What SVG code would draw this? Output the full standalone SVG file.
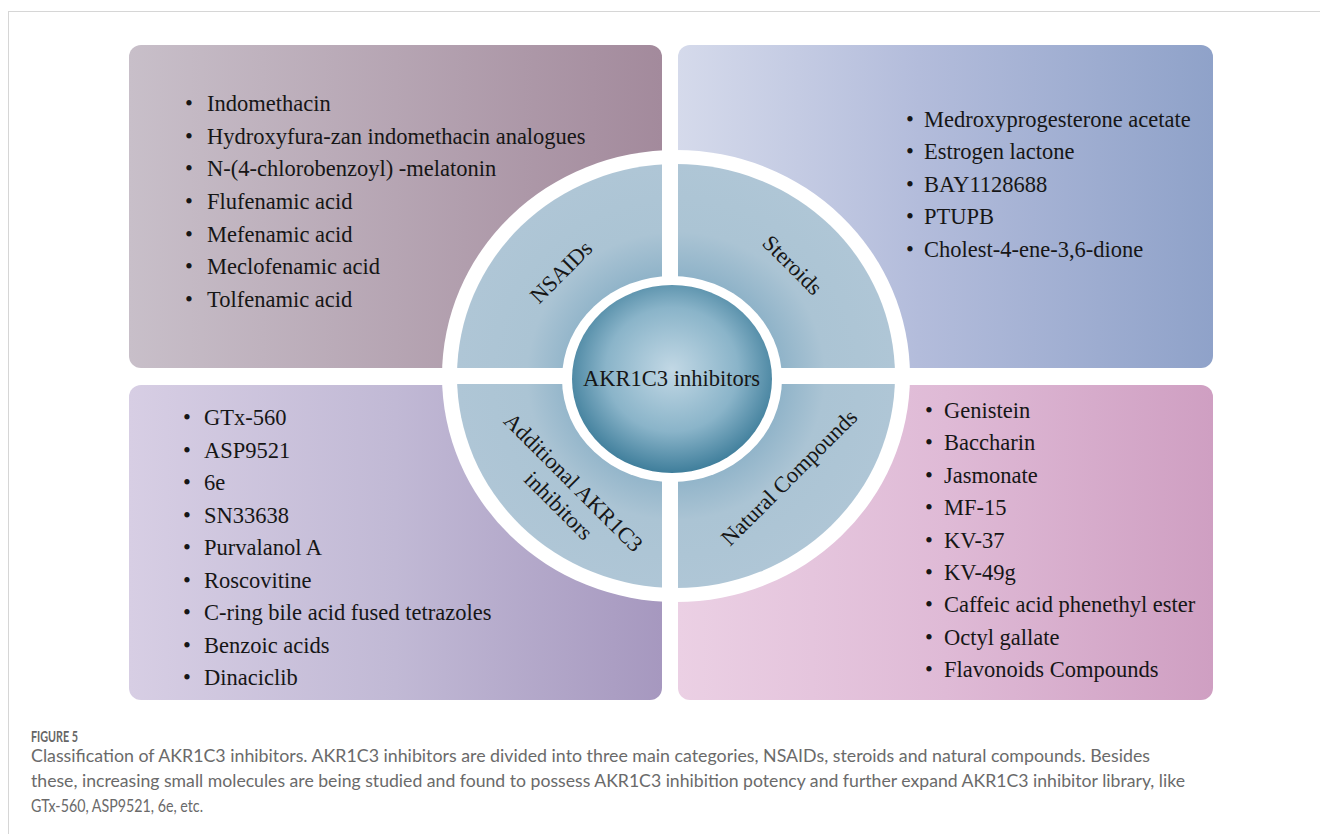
<svg xmlns="http://www.w3.org/2000/svg" width="1320" height="834" viewBox="0 0 1320 834">
  <defs>
    <linearGradient id="gTL" x1="0" y1="0" x2="1" y2="0">
      <stop offset="0" stop-color="#c8bfc9"/>
      <stop offset="0.5" stop-color="#b6a5b3"/>
      <stop offset="1" stop-color="#a38a9c"/>
    </linearGradient>
    <linearGradient id="gTR" x1="0" y1="0" x2="1" y2="0">
      <stop offset="0" stop-color="#d5daeb"/>
      <stop offset="0.45" stop-color="#b3bcdb"/>
      <stop offset="1" stop-color="#8fa2c9"/>
    </linearGradient>
    <linearGradient id="gBL" x1="0" y1="0" x2="1" y2="0">
      <stop offset="0" stop-color="#d7cee4"/>
      <stop offset="0.5" stop-color="#c1b9d5"/>
      <stop offset="1" stop-color="#a698bf"/>
    </linearGradient>
    <linearGradient id="gBR" x1="0" y1="0" x2="1" y2="0">
      <stop offset="0" stop-color="#ebd0e4"/>
      <stop offset="0.5" stop-color="#dfbad6"/>
      <stop offset="1" stop-color="#cf9fc2"/>
    </linearGradient>
    <radialGradient id="gRing" cx="0.5" cy="0.5" r="0.5">
      <stop offset="0.45" stop-color="#8cb1c7"/>
      <stop offset="0.68" stop-color="#abc4d4"/>
      <stop offset="1" stop-color="#afc6d6"/>
    </radialGradient>
    <radialGradient id="gHub" cx="0.5" cy="0.45" r="0.55">
      <stop offset="0" stop-color="#c2d8e5"/>
      <stop offset="0.6" stop-color="#8ab4c9"/>
      <stop offset="1" stop-color="#3f7e9b"/>
    </radialGradient>
  </defs>
  <style>
    .item { font-family: "Liberation Serif", "Times New Roman", serif; font-size: 22.5px; fill: #161616; }
    .lbl { font-family: "Liberation Serif", "Times New Roman", serif; font-size: 22.5px; fill: #161616; text-anchor: middle; }
    .cap { font-family: Lato, "Open Sans", sans-serif; font-size: 17.5px; fill: #6a6a6a; }
    .sep { fill: #ffffff; }
  </style>

  <rect x="8.5" y="11.5" width="1400" height="900" fill="#ffffff" stroke="#d6d6d6" stroke-width="1"/>

  <g id="box-nsaids">
    <rect x="129" y="45" width="533" height="323" rx="12" fill="url(#gTL)"/>
    <text class="item" x="185" y="111"><tspan>•</tspan><tspan x="207">Indomethacin</tspan></text>
    <text class="item" x="185" y="143.7"><tspan>•</tspan><tspan x="207">Hydroxyfura-zan indomethacin analogues</tspan></text>
    <text class="item" x="185" y="176.3"><tspan>•</tspan><tspan x="207">N-(4-chlorobenzoyl) -melatonin</tspan></text>
    <text class="item" x="185" y="209"><tspan>•</tspan><tspan x="207">Flufenamic acid</tspan></text>
    <text class="item" x="185" y="241.7"><tspan>•</tspan><tspan x="207">Mefenamic acid</tspan></text>
    <text class="item" x="185" y="274.3"><tspan>•</tspan><tspan x="207">Meclofenamic acid</tspan></text>
    <text class="item" x="185" y="307"><tspan>•</tspan><tspan x="207">Tolfenamic acid</tspan></text>
  </g>

  <g id="box-steroids">
    <rect x="678" y="45" width="535" height="323" rx="12" fill="url(#gTR)"/>
    <text class="item" x="906" y="127"><tspan>•</tspan><tspan x="924">Medroxyprogesterone acetate</tspan></text>
    <text class="item" x="906" y="159.4"><tspan>•</tspan><tspan x="924">Estrogen lactone</tspan></text>
    <text class="item" x="906" y="191.8"><tspan>•</tspan><tspan x="924">BAY1128688</tspan></text>
    <text class="item" x="906" y="224.2"><tspan>•</tspan><tspan x="924">PTUPB</tspan></text>
    <text class="item" x="906" y="256.6"><tspan>•</tspan><tspan x="924">Cholest-4-ene-3,6-dione</tspan></text>
  </g>

  <g id="box-additional">
    <rect x="129" y="385" width="533" height="315" rx="12" fill="url(#gBL)"/>
    <text class="item" x="183" y="425"><tspan>•</tspan><tspan x="204">GTx-560</tspan></text>
    <text class="item" x="183" y="457.5"><tspan>•</tspan><tspan x="204">ASP9521</tspan></text>
    <text class="item" x="183" y="490"><tspan>•</tspan><tspan x="204">6e</tspan></text>
    <text class="item" x="183" y="522.5"><tspan>•</tspan><tspan x="204">SN33638</tspan></text>
    <text class="item" x="183" y="555"><tspan>•</tspan><tspan x="204">Purvalanol A</tspan></text>
    <text class="item" x="183" y="587.5"><tspan>•</tspan><tspan x="204">Roscovitine</tspan></text>
    <text class="item" x="183" y="620"><tspan>•</tspan><tspan x="204">C-ring bile acid fused tetrazoles</tspan></text>
    <text class="item" x="183" y="652.5"><tspan>•</tspan><tspan x="204">Benzoic acids</tspan></text>
    <text class="item" x="183" y="685"><tspan>•</tspan><tspan x="204">Dinaciclib</tspan></text>
  </g>

  <g id="box-natural">
    <rect x="678" y="385" width="535" height="315" rx="12" fill="url(#gBR)"/>
    <text class="item" x="925" y="418"><tspan>•</tspan><tspan x="944">Genistein</tspan></text>
    <text class="item" x="925" y="450.4"><tspan>•</tspan><tspan x="944">Baccharin</tspan></text>
    <text class="item" x="925" y="482.8"><tspan>•</tspan><tspan x="944">Jasmonate</tspan></text>
    <text class="item" x="925" y="515.2"><tspan>•</tspan><tspan x="944">MF-15</tspan></text>
    <text class="item" x="925" y="547.6"><tspan>•</tspan><tspan x="944">KV-37</tspan></text>
    <text class="item" x="925" y="580"><tspan>•</tspan><tspan x="944">KV-49g</tspan></text>
    <text class="item" x="925" y="612.4"><tspan>•</tspan><tspan x="944">Caffeic acid phenethyl ester</tspan></text>
    <text class="item" x="925" y="644.8"><tspan>•</tspan><tspan x="944">Octyl gallate</tspan></text>
    <text class="item" x="925" y="677.2"><tspan>•</tspan><tspan x="944">Flavonoids Compounds</tspan></text>
  </g>

  <g id="ring">
    <ellipse cx="676" cy="376" rx="234" ry="226" fill="#ffffff"/>
    <ellipse cx="676" cy="376" rx="219" ry="212" fill="url(#gRing)"/>
  </g>

  <g id="connectors">
    <rect class="sep" x="662" y="140" width="16" height="470"/>
    <rect class="sep" x="430" y="368" width="490" height="16"/>
  </g>

  <g id="hub">
    <ellipse cx="672" cy="379" rx="110" ry="103" fill="#ffffff"/>
    <ellipse cx="672" cy="379" rx="100" ry="94" fill="url(#gHub)"/>
    <text class="lbl" x="671.5" y="385.5">AKR1C3 inhibitors</text>
  </g>

  <g id="label-nsaids">
    <text class="lbl" transform="translate(561,272) rotate(-45)" x="0" y="7.5">NSAIDs</text>
  </g>
  <g id="label-steroids">
    <text class="lbl" transform="translate(792.5,265) rotate(45)" x="0" y="7.5">Steroids</text>
  </g>
  <g id="label-natural">
    <text class="lbl" transform="translate(789,477.5) rotate(-45)" x="0" y="7.5">Natural Compounds</text>
  </g>
  <g id="label-additional">
    <g transform="translate(566,494) rotate(45)">
      <text class="lbl" x="-3" y="-6">Additional AKR1C3</text>
      <text class="lbl" x="3" y="21">inhibitors</text>
    </g>
  </g>

  <g id="caption">
    <text x="31" y="742" font-family="Lato, 'Open Sans', sans-serif" font-size="15" font-weight="bold" fill="#666666" textLength="47" lengthAdjust="spacingAndGlyphs">FIGURE 5</text>
    <text class="cap" x="31" y="762" textLength="1119" lengthAdjust="spacingAndGlyphs">Classification of AKR1C3 inhibitors. AKR1C3 inhibitors are divided into three main categories, NSAIDs, steroids and natural compounds. Besides</text>
    <text class="cap" x="31" y="787" textLength="1154" lengthAdjust="spacingAndGlyphs">these, increasing small molecules are being studied and found to possess AKR1C3 inhibition potency and further expand AKR1C3 inhibitor library, like</text>
    <text class="cap" x="31" y="812" textLength="172" lengthAdjust="spacingAndGlyphs">GTx-560, ASP9521, 6e, etc.</text>
  </g>
</svg>
